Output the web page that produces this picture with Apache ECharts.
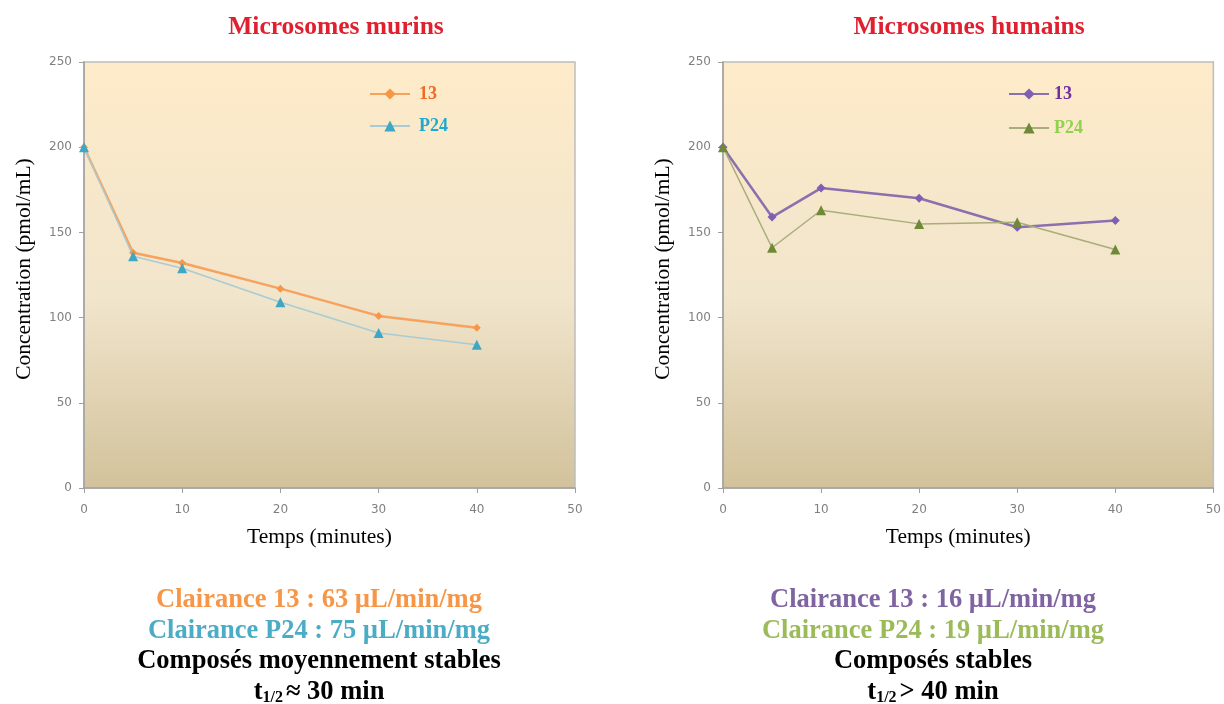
<!DOCTYPE html>
<html>
<head>
<meta charset="utf-8">
<script src="https://cdn.jsdelivr.net/npm/echarts@6/dist/echarts.min.js"></script>
<style>
html,body{margin:0;padding:0;background:#fff;}
#wrap{position:relative;width:1224px;height:704px;}
#c1{position:absolute;left:0;top:0;width:612px;height:704px;}
#c2{position:absolute;left:612px;top:0;width:612px;height:704px;}
</style>
</head>
<body>
<div id="wrap"><div id="c1"></div><div id="c2"></div></div>
<script>
// ---- data ----
var times = [0, 5, 10, 20, 30, 40];
var murin13 = [200, 138, 132, 117, 101, 94];
var murinP24 = [200, 136, 129, 109, 91, 84];
var humain13 = [200, 159, 176, 170, 153, 157];
var humainP24 = [200, 141, 163, 155, 156, 140];
var seriesNames = ['13', 'P24'];
var titleLeft = 'Microsomes murins';
var titleRight = 'Microsomes humains';
var xName = 'Temps (minutes)';
var yName = 'Concentration (pmol/mL)';
var notesLeft = ['Clairance 13 : 63 µL/min/mg', 'Clairance P24 : 75 µL/min/mg', 'Composés moyennement stables', '≈ 30 min'];
var notesRight = ['Clairance 13 : 16 µL/min/mg', 'Clairance P24 : 19 µL/min/mg', 'Composés stables', '> 40 min'];

function pairs(xs, ys) { return xs.map(function (x, i) { return [x, ys[i]]; }); }

var serif = '"Liberation Serif", "Times New Roman", serif';
var sans = '"DejaVu Sans", Verdana, sans-serif';

function noteText(x, y, text, color) {
  return {type: 'text', x: x, y: y,
    style: {text: text, fill: color, font: 'bold 26.5px ' + serif, align: 'center', verticalAlign: 'middle'}};
}

function build(cfg) {
  var bg = {
    type: 'linear', x: 0, y: 0, x2: 0, y2: 1,
    colorStops: [{offset: 0, color: '#FEEBC9'}, {offset: 0.55, color: '#F1E5CC'}, {offset: 1, color: '#D2C29B'}]
  };
  var cx = cfg.noteX;
  return {
    animation: false,
    backgroundColor: '#ffffff',
    grid: {left: cfg.gridLeft, right: cfg.gridRight, top: 62, bottom: 216, show: true,
      backgroundColor: bg, borderColor: '#BDBDBD', borderWidth: 1.5},
    title: {text: cfg.title, left: cfg.titleX, top: 9, textAlign: 'center',
      textStyle: {fontFamily: serif, fontWeight: 'bold', fontSize: 25.5, color: '#E0202F'}},
    legend: {
      orient: 'vertical', left: cfg.legendX, top: 80, itemWidth: 40, itemHeight: 14, itemGap: cfg.legendGap,
      textStyle: {fontFamily: serif, fontWeight: 'bold', fontSize: 18, padding: [0, 0, 0, cfg.legendPad]},
      data: [{name: seriesNames[0], textStyle: {color: cfg.txt13}}, {name: seriesNames[1], textStyle: {color: cfg.txtP24}}]
    },
    xAxis: {
      type: 'value', min: 0, max: 50, interval: 10,
      name: xName, nameLocation: 'middle', nameGap: 38,
      nameTextStyle: {fontFamily: serif, fontSize: 21.5, color: '#000', padding: [0, 20, 0, 0]},
      axisLine: {show: true, lineStyle: {color: '#A0A0A0', width: 1.5}},
      axisTick: {show: true, length: 5, lineStyle: {color: '#A0A0A0'}},
      axisLabel: {fontFamily: sans, fontSize: 12, color: '#808080', margin: 16},
      splitLine: {show: false}
    },
    yAxis: {
      type: 'value', min: 0, max: 250, interval: 50,
      name: yName, nameLocation: 'middle', nameGap: 49,
      nameTextStyle: {fontFamily: serif, fontSize: 21.5, color: '#000', padding: [0, 0, 0, 12]},
      axisLine: {show: true, lineStyle: {color: '#A0A0A0', width: 1.5}},
      axisTick: {show: true, length: 5, lineStyle: {color: '#A0A0A0'}},
      axisLabel: {fontFamily: sans, fontSize: 12, color: '#808080', margin: 12},
      splitLine: {show: false}
    },
    series: [
      {name: seriesNames[0], type: 'line', data: pairs(times, cfg.s13), symbol: 'diamond', symbolSize: cfg.sym13,
        lineStyle: {color: cfg.line13, width: 2.5}, itemStyle: {color: cfg.mark13}},
      {name: seriesNames[1], type: 'line', data: pairs(times, cfg.sP24), symbol: 'triangle', symbolSize: 10,
        lineStyle: {color: cfg.lineP24, width: 1.5}, itemStyle: {color: cfg.markP24}}
    ],
    graphic: [
      noteText(cx, 600, cfg.notes[0], cfg.noteColor13),
      noteText(cx, 631, cfg.notes[1], cfg.noteColorP24),
      noteText(cx, 661, cfg.notes[2], '#000'),
      {type: 'text', x: cx, y: 692,
        style: {
          text: '{c|t}{s|1/2}{c|' + cfg.notes[3] + '}', align: 'center', verticalAlign: 'middle',
          rich: {
            c: {font: 'bold 26.5px ' + serif, fill: '#000', lineHeight: 30},
            s: {font: 'bold 16px ' + serif, fill: '#000', lineHeight: 30, padding: [12, 3, 0, 0]}
          }
        }
      }
    ]
  };
}

var c1 = echarts.init(document.getElementById('c1'));
c1.setOption(build({
  gridLeft: 84, gridRight: 37, title: titleLeft, titleX: 331, legendX: 364, legendGap: 14, legendPad: 4,
  txt13: '#F26A21', txtP24: '#1FA9D0',
  s13: murin13, sP24: murinP24,
  line13: '#F7A25E', mark13: '#F79646', sym13: 8,
  lineP24: '#A9CBD4', markP24: '#3FA7C4',
  notes: notesLeft, noteColor13: '#F79646', noteColorP24: '#4BACC6', noteX: 319
}));
var c2 = echarts.init(document.getElementById('c2'));
c2.setOption(build({
  gridLeft: 111, gridRight: 9, title: titleRight, titleX: 352, legendX: 391, legendGap: 16, legendPad: 0,
  txt13: '#7030A0', txtP24: '#92D050',
  s13: humain13, sP24: humainP24,
  line13: '#8A70AE', mark13: '#7E5FB3', sym13: 9,
  lineP24: '#A8AD7C', markP24: '#6E8A36',
  notes: notesRight, noteColor13: '#8064A2', noteColorP24: '#9BBB59', noteX: 321
}));
</script>
</body>
</html>
